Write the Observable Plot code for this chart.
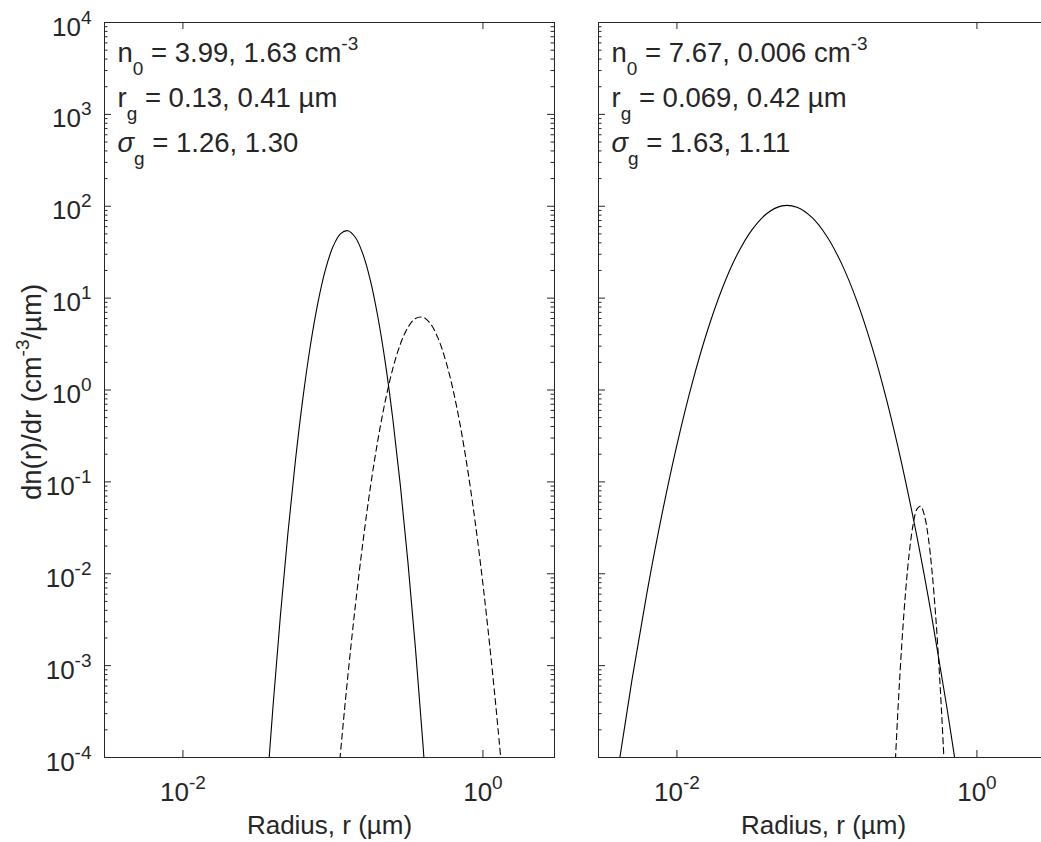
<!DOCTYPE html>
<html>
<head>
<meta charset="utf-8">
<script src="https://cdn.jsdelivr.net/npm/d3@7"></script>
<script src="https://cdn.jsdelivr.net/npm/@observablehq/plot@0.6"></script>
<style>
html, body { margin: 0; padding: 0; background: #fff; overflow: hidden; width: 1041px; height: 842px; }
#wrap { position: relative; width: 1041px; height: 842px; overflow: hidden; }
#wrap svg { position: absolute; top: 0; }
</style>
</head>
<body>
<div id="wrap"></div>
<script>
// ---- data (radius in µm, dn/dr in cm^-3/µm) ----
const leftSolidR = [0.03548, 0.03981, 0.04467, 0.05012, 0.05623, 0.06310, 0.07079, 0.07943, 0.08913, 0.1000, 0.1122, 0.1259, 0.1413, 0.1585, 0.1778, 0.1995, 0.2239, 0.2512, 0.2818, 0.3162, 0.3548, 0.3981, 0.4467];
const leftSolidN = [2.71e-5, 3.50e-4, 3.54e-3, 2.78e-2, 0.171, 0.820, 3.07, 8.94, 20.4, 36.2, 50.1, 54.2, 45.7, 30.1, 15.5, 6.19, 1.94, 0.472, 0.0899, 1.34e-2, 1.55e-3, 1.40e-4, 9.86e-6];

const leftDashR = [0.1000, 0.1122, 0.1259, 0.1413, 0.1585, 0.1778, 0.1995, 0.2239, 0.2512, 0.2818, 0.3162, 0.3548, 0.3981, 0.4467, 0.5012, 0.5623, 0.6310, 0.7079, 0.7943, 0.8913, 1.000, 1.122, 1.259, 1.413];
const leftDashN = [1.30e-5, 1.11e-4, 7.88e-4, 4.60e-3, 2.21e-2, 8.77e-2, 0.287, 0.775, 1.73, 3.17, 4.80, 6.00, 6.19, 5.26, 3.69, 2.13, 1.02, 0.401, 0.130, 3.49e-2, 7.70e-3, 1.40e-3, 2.11e-4, 2.61e-5];

const rightSolidR = [0.003162, 0.003981, 0.005012, 0.006310, 0.007943, 0.01000, 0.01259, 0.01585, 0.01995, 0.02512, 0.03162, 0.03981, 0.05012, 0.06310, 0.07943, 0.1000, 0.1259, 0.1585, 0.1995, 0.2512, 0.3162, 0.3981, 0.5012, 0.6310, 0.7943];
const rightSolidN = [4.48e-6, 6.23e-5, 6.94e-4, 6.19e-3, 4.42e-2, 0.253, 1.16, 4.25, 12.5, 29.4, 55.3, 83.5, 101, 97.6, 75.6, 46.9, 23.3, 9.28, 2.96, 0.755, 0.154, 2.53e-2, 3.31e-3, 3.48e-4, 2.92e-5];

const rightDashR = [0.2661, 0.2818, 0.2985, 0.3162, 0.3350, 0.3548, 0.3758, 0.3981, 0.4217, 0.4467, 0.4732, 0.5012, 0.5309, 0.5623, 0.5957, 0.6310];
const rightDashN = [6.04e-6, 5.46e-5, 3.65e-4, 1.80e-3, 6.53e-3, 1.75e-2, 3.46e-2, 5.05e-2, 5.44e-2, 4.31e-2, 2.53e-2, 1.09e-2, 3.48e-3, 8.17e-4, 1.42e-4, 1.81e-5];

const xTicks = [0.01, 1];
const xTickLabels = ["10^{-2}", "10^{0}"];
const yTicks = [1e-4, 1e-3, 1e-2, 1e-1, 1e0, 1e1, 1e2, 1e3, 1e4];
const yTickLabels = ["10^{-4}", "10^{-3}", "10^{-2}", "10^{-1}", "10^{0}", "10^{1}", "10^{2}", "10^{3}", "10^{4}"];
const xTitle = "Radius, r (µm)";
const yTitle = "dn(r)/dr (cm^{-3}/µm)";
const leftAnnotation = ["n_{0} = 3.99, 1.63 cm^{-3}", "r_{g} = 0.13, 0.41 µm", "~{σ}_{g} = 1.26, 1.30"];
const rightAnnotation = ["n_{0} = 7.67, 0.006 cm^{-3}", "r_{g} = 0.069, 0.42 µm", "~{σ}_{g} = 1.63, 1.11"];

// ---- layout ----
const AX = "#262626";
const FW = 450, FH = 735;        // frame size
const FS = 26, FS_ANN = 27.5, SMALL = 19;
const annDy = [39, 84, 129];

const yMinor = [];
for (let k = 0; k < yTicks.length - 1; k++) for (let m = 2; m <= 9; m++) yMinor.push(m * yTicks[k]);

function panel(sR, sN, dR, dN, ann, showY, svgW, mLeft) {
  const solid = sR.map((r, i) => ({r, n: sN[i]}));
  const dash = dR.map((r, i) => ({r, n: dN[i]}));
  const marks = [
    Plot.line(solid, {x: "r", y: "n", stroke: "#000", strokeWidth: 1.1, curve: "catmull-rom", clip: true}),
    Plot.line(dash, {x: "r", y: "n", stroke: "#000", strokeWidth: 1.1, strokeDasharray: "6,4", curve: "catmull-rom", clip: true}),
    Plot.ruleY(yTicks, {y: d => d, stroke: AX, insetRight: FW - 7}),
    Plot.ruleY(yTicks, {y: d => d, stroke: AX, insetLeft: FW - 7}),
    Plot.ruleY(yMinor, {y: d => d, stroke: AX, insetRight: FW - 3.5}),
    Plot.ruleY(yMinor, {y: d => d, stroke: AX, insetLeft: FW - 3.5}),
    Plot.ruleX(xTicks, {x: d => d, stroke: AX, insetTop: FH - 7}),
    Plot.ruleX(xTicks, {x: d => d, stroke: AX, insetBottom: FH - 7}),
    Plot.frame({stroke: AX}),
    Plot.text(xTicks, {x: d => d, text: (d, i) => xTickLabels[i], frameAnchor: "bottom", lineAnchor: "bottom", textAnchor: "middle", dy: 43, fontSize: FS, fill: AX}),
    Plot.text([xTitle], {text: d => d, frameAnchor: "bottom", lineAnchor: "bottom", textAnchor: "middle", dy: 76, fontSize: FS, fill: AX}),
    ...ann.map((s, i) => Plot.text([s], {text: d => d, frameAnchor: "top-left", lineAnchor: "bottom", textAnchor: "start", dx: 13, dy: annDy[i], fontSize: FS_ANN, fill: AX}))
  ];
  if (showY) {
    marks.push(Plot.text(yTicks, {y: d => d, text: (d, i) => yTickLabels[i], frameAnchor: "left", lineAnchor: "bottom", textAnchor: "end", dx: -13, dy: 13, fontSize: FS, fill: AX}));
    marks.push(Plot.text([yTitle], {text: d => d, frameAnchor: "left", rotate: -90, lineAnchor: "bottom", textAnchor: "middle", dx: -64, dy: 2, fontSize: FS_ANN, fill: AX}));
  }
  return Plot.plot({
    width: svgW, height: 842,
    marginLeft: mLeft, marginRight: svgW - mLeft - FW, marginTop: 22, marginBottom: 842 - 22 - FH,
    x: {type: "log", domain: [0.003, 3], axis: null},
    y: {type: "log", domain: [1e-4, 1e4], axis: null},
    style: "background:transparent;max-width:none;overflow:visible;font-family:'Liberation Sans',Arial,Helvetica,sans-serif;",
    marks
  });
}

const NS = "http://www.w3.org/2000/svg";
function rich(svg) {
  svg.querySelectorAll("text").forEach(t => {
    const s = t.textContent;
    if (!/[_^~]\{/.test(s) || t.children.length) return;
    const supShift = -12, subShift = 13;
    t.textContent = "";
    let shift = 0;
    const add = (str, kind) => {
      const ts = document.createElementNS(NS, "tspan");
      ts.textContent = str;
      let target = 0;
      if (kind === "_") { ts.setAttribute("font-size", SMALL); target = subShift; }
      else if (kind === "^") { ts.setAttribute("font-size", SMALL); target = supShift; }
      else if (kind === "~") { ts.setAttribute("font-style", "italic"); }
      const dy = target - shift;
      if (dy) ts.setAttribute("dy", dy);
      shift = target;
      t.appendChild(ts);
    };
    const re = /([_^~])\{([^}]*)\}/g;
    let last = 0, m;
    while ((m = re.exec(s))) {
      if (m.index > last) add(s.slice(last, m.index), "");
      add(m[2], m[1]);
      last = re.lastIndex;
    }
    if (last < s.length) add(s.slice(last), "");
  });
}

const wrap = document.getElementById("wrap");
const left = panel(leftSolidR, leftSolidN, leftDashR, leftDashN, leftAnnotation, true, 560, 104);
left.style.left = "0px";
wrap.appendChild(left);
const right = panel(rightSolidR, rightSolidN, rightDashR, rightDashN, rightAnnotation, false, 500, 38);
right.style.left = "560px";
wrap.appendChild(right);
rich(left);
rich(right);
</script>
</body>
</html>
